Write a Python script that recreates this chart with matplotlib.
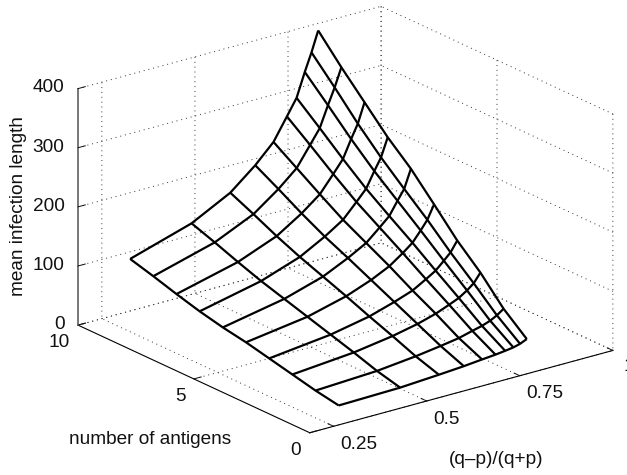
import numpy as np
import matplotlib
matplotlib.use("Agg")
import matplotlib.pyplot as plt

plt.rcParams["font.family"] = ["Liberation Sans", "DejaVu Sans"]

# (q-p)/(q+p) at the mesh nodes
ratio = [0.326, 0.491, 0.595, 0.662, 0.711, 0.747, 0.773, 0.795, 0.813, 0.831]
antigens = [1, 2, 3, 4, 5, 6, 7, 8, 9, 10]

# one row per number of antigens
col1 = [4, 11, 20, 29, 38, 45, 54, 65, 77, 88]
col2 = [6, 16, 29, 41, 53, 65, 77, 91, 106, 120]
col3 = [10, 23, 39, 54, 70, 85, 100, 117, 136, 154]
col4 = [13, 29, 48, 67, 86, 105, 123, 144, 167, 189]
col5 = [16, 34, 57, 78, 101, 122, 143, 168, 194, 220]
col6 = [18, 40, 66, 91, 117, 142, 167, 196, 227, 257]
col7 = [20, 44, 73, 101, 130, 157, 185, 217, 251, 284]
col8 = [22, 49, 82, 114, 147, 179, 211, 247, 286, 324]
col9 = [25, 55, 91, 125, 162, 196, 231, 270, 313, 354]
col10 = [30, 63, 106, 142, 185, 227, 262, 303, 344, 388]

xtick_vals = [0.25, 0.5, 0.75, 1]
xtick_labels = ["0.25", "0.5", "0.75", "1"]
ytick_vals = [0, 5, 10]
ztick_vals = [0, 100, 200, 300, 400]

fig = plt.figure(figsize=(6.27, 4.75), dpi=100)
ax = fig.add_axes([0.1619, 0.0243, 0.7576, 1.0], projection="3d", proj_type="ortho")
ax.patch.set_alpha(0)
ax.view_init(elev=20.8, azim=-127.4)
ax.set_box_aspect((1, 1, 0.663), zoom=1.218)

X, Y = np.meshgrid(ratio, antigens)
Z = np.array([col1, col2, col3, col4, col5, col6, col7, col8, col9, col10]).T
ax.plot_wireframe(X, Y, Z, color="black", linewidth=1.6)

ax.set_xlim(0.186, 1, view_margin=0)
ax.set_ylim(0, 10, view_margin=0)
ax.set_zlim(0, 400, view_margin=0)
ax.set_xticks(xtick_vals)
ax.set_xticklabels(xtick_labels)
ax.set_yticks(ytick_vals)
ax.set_zticks(ztick_vals)
ax.tick_params(labelsize=13.7, colors="#111111")
ax.tick_params(axis="x", pad=-3)
ax.tick_params(axis="y", pad=-3)
ax.tick_params(axis="z", pad=-3.5)
for t in ax.get_xticklabels():
    t.set_ha("left")
for t in ax.get_yticklabels():
    t.set_ha("right")
for t in ax.get_zticklabels():
    t.set_ha("right")
    t.set_va("center")
# the "1" runs off the right edge of the picture
ax.xaxis.get_major_ticks()[-1].set_pad(0.4)
ax.get_xticklabels()[-1].set_va("center")

for axis in (ax.xaxis, ax.yaxis, ax.zaxis):
    axis.set_pane_color((1, 1, 1, 0))
    axis.pane.set_edgecolor("none")
    axis.line.set_linewidth(0.8)
    axis.line.set_color("black")
    axis._axinfo["grid"].update(color="#333333", linewidth=0.7, linestyle=(0, (1, 4)))
    axis._axinfo["tick"].update(inward_factor=0, outward_factor=0.3, linewidth={True: 0.7, False: 0.7})
ax.zaxis.line.set_linewidth(1.4)
ax.zaxis.line.set_color("#777777")

fig.text(19 / 627, 1 - 206 / 475, "mean infection length", rotation=90, fontsize=13.7, ha="center", va="center", color="#111111")
fig.text(150 / 627, 1 - 439 / 475, "number of antigens", fontsize=13.7, ha="center", va="center", color="#111111")
fig.text(496 / 627, 1 - 460 / 475, "(q\u2013p)/(q+p)", fontsize=13.7, ha="center", va="center", color="#111111")

fig.savefig("out.png", dpi=100)
